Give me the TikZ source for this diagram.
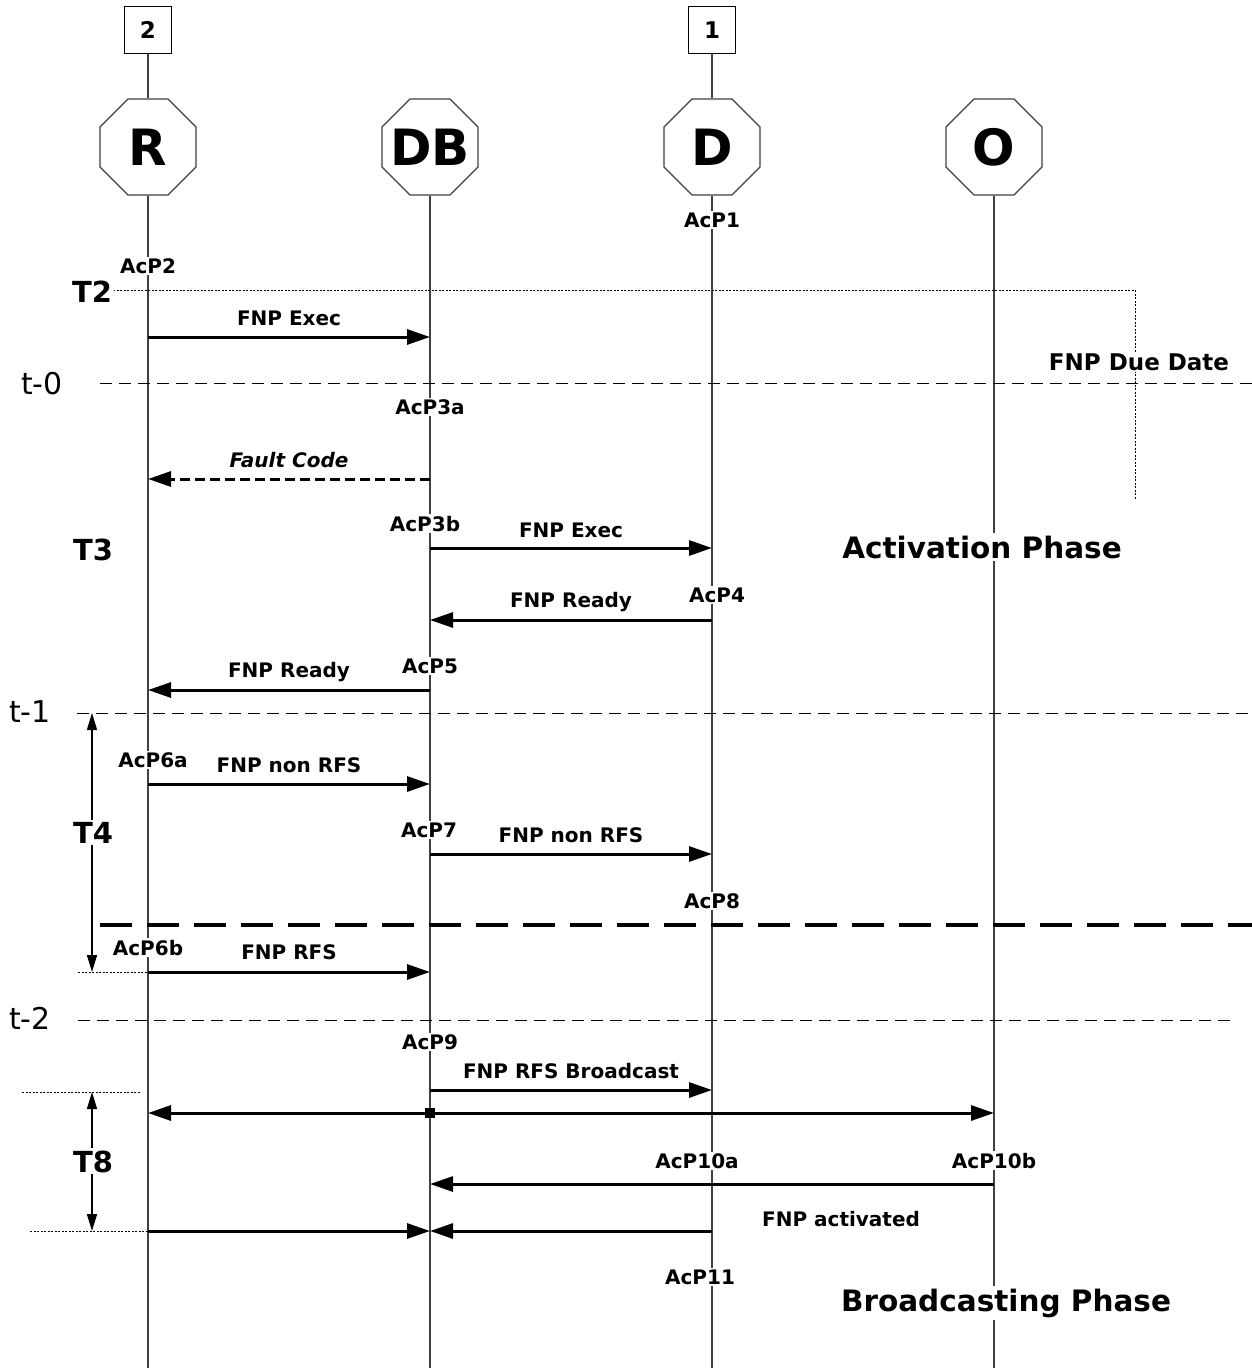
\documentclass[tikz,border=0pt]{standalone}
\usepackage{fontspec}
\setmainfont{DejaVu Sans}
\usetikzlibrary{arrows.meta,shapes.geometric}

\begin{document}
\begin{tikzpicture}[x=1pt,y=-1pt,
  actor/.style={draw=black!75, line width=1.2pt, fill=white, regular polygon,
    regular polygon sides=8, minimum size=104pt, inner sep=0pt,
    label={[font=\bfseries\fontsize{50}{50}\selectfont]center:#1}},
  tagbox/.style={draw, line width=1.2pt, fill=white, minimum size=47pt, inner sep=0pt,
    font=\bfseries\fontsize{23}{24}\selectfont},
  life/.style={draw=black!75, line width=1.2pt},
  msg/.style={line width=3pt, -{Triangle[length=23pt,width=15pt]}},
  msgdash/.style={msg, dash pattern=on 10pt off 5pt},
  span/.style={line width=1.5pt, {Triangle[length=17pt,width=10pt]}-{Triangle[length=17pt,width=10pt]}},
  timeline/.style={line width=1pt, dash pattern=on 12pt off 7pt},
  splitline/.style={line width=3.5pt, dash pattern=on 32pt off 15pt},
  guide/.style={line width=1pt, dash pattern=on 2pt off 1.5pt},
  txt/.style={anchor=base, inner sep=1.5pt, font=\bfseries\fontsize{20}{21}\selectfont},
  pt/.style={txt, fill=white},
  tag/.style={anchor=base, inner sep=2pt, fill=white, font=\bfseries\fontsize{29}{30}\selectfont},
  tmark/.style={anchor=base, inner sep=1pt, font=\fontsize{30}{31}\selectfont},
  phase/.style={anchor=base, inner sep=3pt, fill=white, font=\bfseries\fontsize{29.5}{31}\selectfont}
]
\useasboundingbox (0,0) rectangle (1252,1368);

% participants
\node[actor=R]  (R)  at (148,147) {};
\node[actor=DB] (DB) at (430,147) {};
\node[actor=D]  (D)  at (712,147) {};
\node[actor=O]  (O)  at (994,147) {};
\node[tagbox] (b2) at (148,30) {2};
\node[tagbox] (b1) at (712,30) {1};

% lifelines
\draw[life] (b2.south) -- (R.north);
\draw[life] (b1.south) -- (D.north);
\draw[life] (R.south)  -- (R |- 0,1368);
\draw[life] (DB.south) -- (DB |- 0,1368);
\draw[life] (D.south)  -- (D |- 0,1368);
\draw[life] (O.south)  -- (O |- 0,1368);

% time marks and phase separators
\coordinate (dueL) at (113,290);
\coordinate (dueC) at (1135,290);
\coordinate (dueB) at (1135,500);
\draw[guide] (dueL) -- (dueC) -- (dueB);
\coordinate (t0a) at (100,383);  \coordinate (t0b) at (1252,383);
\draw[timeline] (t0a) -- (t0b);
\coordinate (t1a) at (77,713);   \coordinate (t1b) at (1252,713);
\draw[timeline] (t1a) -- (t1b);
\coordinate (t2a) at (78,1020);  \coordinate (t2b) at (1230,1020);
\draw[timeline] (t2a) -- (t2b);
\coordinate (spa) at (100,925);  \coordinate (spb) at (1252,925);
\draw[splitline] (spa) -- (spb);

% span guides
\coordinate (g1) at (78,972);
\coordinate (g2) at (22,1092);  \coordinate (g2e) at (140,1092);
\coordinate (g3) at (30,1231);
\draw[guide] (g1) -- (R |- 0,972);
\draw[guide] (g2) -- (g2e);
\draw[guide] (g3) -- (R |- 0,1231);

% span arrows
\coordinate (s4a) at (92,713);  \coordinate (s4b) at (92,972);
\draw[span] (s4a) -- (s4b);
\coordinate (s8a) at (92,1092); \coordinate (s8b) at (92,1231);
\draw[span] (s8a) -- (s8b);

% messages
\draw[msg] (R |- 0,337) -- (DB |- 0,337);
\draw[msgdash] (DB |- 0,479) -- (R |- 0,479);
\draw[msg] (DB |- 0,548) -- (D |- 0,548);
\draw[msg] (D |- 0,620) -- (DB |- 0,620);
\draw[msg] (DB |- 0,690) -- (R |- 0,690);
\draw[msg] (R |- 0,784) -- (DB |- 0,784);
\draw[msg] (DB |- 0,854) -- (D |- 0,854);
\draw[msg] (R |- 0,972) -- (DB |- 0,972);
\draw[msg] (DB |- 0,1090) -- (D |- 0,1090);
\node[fill, minimum size=10pt, inner sep=0pt] (hub) at (DB |- 0,1113) {};
\draw[msg] (hub) -- (R |- 0,1113);
\draw[msg] (hub) -- (O |- 0,1113);
\draw[msg] (O |- 0,1184) -- (DB |- 0,1184);
\draw[msg] (R |- 0,1231) -- (DB |- 0,1231);
\draw[msg] (D |- 0,1231) -- (DB |- 0,1231);

% vertical guide label
\node[pt, font=\bfseries\fontsize{23}{24}\selectfont] (due) at (1139,370) {FNP Due Date};

% action points
\node[pt] (a1)   at (712,227)  {AcP1};
\node[pt] (a2)   at (148,273)  {AcP2};
\node[pt] (a3a)  at (430,414)  {AcP3a};
\node[pt] (a3b)  at (425,531)  {AcP3b};
\node[pt] (a4)   at (717,602)  {AcP4};
\node[pt] (a5)   at (430,673)  {AcP5};
\node[pt] (a6a)  at (153,767)  {AcP6a};
\node[pt] (a7)   at (429,837)  {AcP7};
\node[pt] (a8)   at (712,908)  {AcP8};
\node[pt] (a6b)  at (148,955)  {AcP6b};
\node[pt] (a9)   at (430,1049) {AcP9};
\node[pt] (a10a) at (697,1168) {AcP10a};
\node[pt] (a10b) at (994,1168) {AcP10b};
\node[pt] (a11)  at (700,1284) {AcP11};

% message labels
\node[txt] (m1)  at (289,325)  {FNP Exec};
\node[txt] (m2)  at (289,467)  {\itshape Fault Code};
\node[txt] (m3)  at (571,537)  {FNP Exec};
\node[txt] (m4)  at (571,607)  {FNP Ready};
\node[txt] (m5)  at (289,677)  {FNP Ready};
\node[txt] (m6)  at (289,772)  {FNP non RFS};
\node[txt] (m7)  at (571,842)  {FNP non RFS};
\node[txt] (m8)  at (289,959)  {FNP RFS};
\node[txt] (m9)  at (571,1078) {FNP RFS Broadcast};
\node[txt] (m10) at (841,1226) {FNP activated};

% interval labels
\node[tag] (T2) at (92,302)  {T2};
\node[tag] (T3) at (93,560)  {T3};
\node[tag] (T4) at (93,843)  {T4};
\node[tag] (T8) at (93,1172) {T8};

% time marks
\node[tmark] (tm0) at (42,394)  {t-0};
\node[tmark] (tm1) at (30,722)  {t-1};
\node[tmark] (tm2) at (30,1029) {t-2};

% phases
\node[phase] (ph1) at (982,558)  {Activation Phase};
\node[phase] (ph2) at (1006,1311) {Broadcasting Phase};
\end{tikzpicture}
\end{document}
